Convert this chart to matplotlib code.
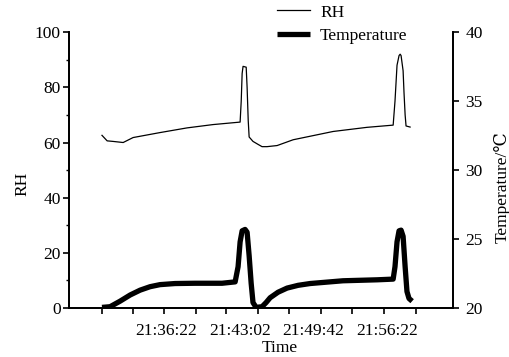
import numpy as np
import matplotlib
matplotlib.use('Agg')
import matplotlib.pyplot as plt

plt.rcParams['font.family'] = ['Liberation Serif', 'DejaVu Serif']

# time in seconds relative to 21:36:22
rh_t = [-348, -320, -288, -233, -179, -33, 114, 255, 402, 408, 413, 418, 435, 440,
        446, 451, 472, 500, 521, 548, 603, 690, 907, 1091, 1233, 1243, 1254, 1265,
        1271, 1276, 1287, 1292, 1298, 1303, 1325]
rh = [62.6, 60.6, 60.4, 60.0, 61.8, 63.6, 65.3, 66.5, 67.4, 75.0, 85.0, 87.6, 87.3, 80.0,
      68.0, 62.0, 60.4, 59.3, 58.5, 58.5, 58.9, 61.0, 64.0, 65.5, 66.3, 75.0, 88.0, 91.5,
      92.0, 91.5, 86.0, 78.0, 70.0, 66.0, 65.6]

temp_t = [-348, -304, -250, -195, -141, -87, -33, 49, 157, 304, 375, 391, 402, 413, 429,
          440, 451, 462, 472, 489, 521, 543, 565, 608, 657, 717, 782, 961, 1146, 1233,
          1243, 1254, 1265, 1276, 1287, 1298, 1308, 1319, 1336]
temp = [20.05, 20.1, 20.5, 20.95, 21.3, 21.55, 21.7, 21.78, 21.8, 21.8, 21.9, 23.0, 24.8,
        25.6, 25.7, 25.5, 23.8, 21.8, 20.4, 20.05, 20.1, 20.4, 20.75, 21.15, 21.45, 21.65,
        21.78, 21.98, 22.05, 22.1, 23.0, 24.8, 25.6, 25.65, 25.2, 23.0, 21.2, 20.7, 20.5]

time_ticks = [0, 400, 800, 1200]
time_labels = ['21:36:22', '21:43:02', '21:49:42', '21:56:22']
minor_ticks = [-348, -179, -11, 163, 326, 500, 668, 842, 1010, 1184, 1358]

fig = plt.figure(figsize=(5.09, 3.57), dpi=100)
ax = fig.add_axes([0.1356, 0.137, 0.7544, 0.773])
ax2 = ax.twinx()

l1, = ax.plot(rh_t, rh, color='black', lw=0.9)
l2, = ax2.plot(temp_t, temp, color='black', lw=3.8, solid_capstyle='butt',
               solid_joinstyle='round')

ax.set_xlim(-527, 1558)
ax.set_ylim(0, 100)
ax2.set_ylim(20, 40)

for a in (ax, ax2):
    a.spines['top'].set_visible(False)
    for s in a.spines.values():
        s.set_linewidth(1.3)

ax.set_yticks([0, 20, 40, 60, 80, 100])
ax.set_yticks([10, 30, 50, 70, 90], minor=True)
ax2.set_yticks([20, 25, 30, 35, 40])

ax.set_xticks(time_ticks)
ax.set_xticklabels(time_labels)
ax.set_xticks(minor_ticks, minor=True)
ax.tick_params(axis='x', which='major', length=0, pad=11, labelsize=12.5)
ax.tick_params(axis='x', which='minor', length=4, width=1.2, direction='out')
ax.tick_params(axis='y', which='major', length=4, width=1.2, labelsize=12.5, pad=2)
ax.tick_params(axis='y', which='minor', length=2.5, width=1.0)
ax2.tick_params(axis='y', which='major', length=4, width=1.2, labelsize=12.5, pad=5)

ax.set_xlabel('Time', fontsize=12.5)
ax.xaxis.set_label_coords(0.55, -0.115)
ax.set_ylabel('RH', fontsize=12.5)
ax.yaxis.set_label_coords(-0.1, 0.45)
ax2.set_ylabel('Temperature/\u2103', fontsize=12.5)
ax2.yaxis.set_label_coords(1.105, 0.44)

fig.legend([l1, l2], ['RH', 'Temperature'], loc='upper left',
           bbox_to_anchor=(0.54, 0.995), frameon=False, fontsize=12.5,
           handlelength=1.9, handletextpad=0.55, labelspacing=0.4,
           borderaxespad=0, borderpad=0.15)

fig.savefig('out.png', dpi=100)
